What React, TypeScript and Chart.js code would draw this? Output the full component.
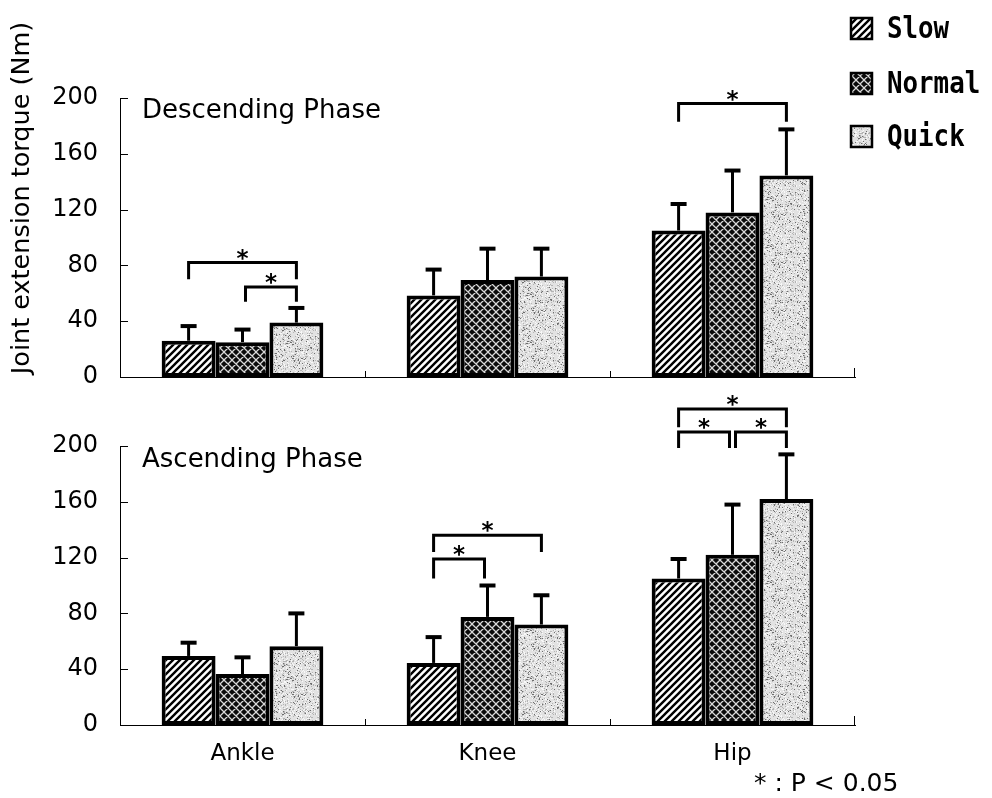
import { useEffect, useRef } from 'react';
import { Chart, registerables } from 'chart.js';

Chart.register(...registerables);

// ---------- data ----------
const categories = ['Ankle', 'Knee', 'Hip'];
const seriesNames = ['Slow', 'Normal', 'Quick'];
const yTickValues = [0, 40, 80, 120, 160, 200];

// Descending phase (mean, +SD)
const descSlow = [26, 58.5, 105];
const descNormal = [25, 69.5, 118];
const descQuick = [39, 72, 144.5];
const descSlowSD = [10.5, 18.5, 19];
const descNormalSD = [9, 22.5, 30];
const descQuickSD = [10.5, 20, 33];

// Ascending phase (mean, +SD)
const ascSlow = [49.5, 44.5, 105];
const ascNormal = [36.5, 77.5, 122];
const ascQuick = [56.5, 72, 162];
const ascSlowSD = [9.5, 18.5, 14];
const ascNormalSD = [12, 22.5, 36];
const ascQuickSD = [23.5, 21, 32];

// significance brackets: [category, fromSeries, toSeries, bracketLevel, legEndLevel]
const descBrackets = [
  [0, 0, 2, 82, 70],
  [0, 1, 2, 64.5, 54],
  [2, 0, 2, 196, 183],
];
const ascBrackets = [
  [1, 0, 2, 136, 124],
  [1, 0, 1, 119, 105],
  [2, 0, 2, 226.5, 213.5],
  [2, 0, 1, 210, 198.5],
  [2, 1, 2, 210, 198.5],
];

const descLabel = 'Descending Phase';
const ascLabel = 'Ascending Phase';
const yTitle = 'Joint extension torque (Nm)';
const pNote = '* : P < 0.05';

// ---------- patterns ----------
function diagTile(size: number, bg: string, fg: string, lw: number, both: boolean) {
  const c = document.createElement('canvas');
  c.width = size;
  c.height = size;
  const g = c.getContext('2d')!;
  g.fillStyle = bg;
  g.fillRect(0, 0, size, size);
  g.strokeStyle = fg;
  g.lineWidth = lw;
  g.beginPath();
  for (let k = -1; k <= 1; k++) {
    g.moveTo(k * size - 1, size + 1);
    g.lineTo(k * size + size + 1, -1);
    if (both) {
      g.moveTo(k * size - 1, -1);
      g.lineTo(k * size + size + 1, size + 1);
    }
  }
  g.stroke();
  return c;
}

function hash2(x: number, y: number) {
  const v = Math.sin(x * 12.9898 + y * 78.233) * 43758.5453;
  return v - Math.floor(v);
}

function stippleTile() {
  const s = 48;
  const c = document.createElement('canvas');
  c.width = s;
  c.height = s;
  const g = c.getContext('2d')!;
  g.fillStyle = '#e2e2e2';
  g.fillRect(0, 0, s, s);
  for (let yy = 0; yy < s; yy++) {
    for (let xx = 0; xx < s; xx++) {
      const h = hash2(xx, yy);
      if (h < 0.07) {
        g.fillStyle = '#6e6e6e';
        g.fillRect(xx, yy, 1, 1);
      } else if (h < 0.2) {
        g.fillStyle = '#b4b4b4';
        g.fillRect(xx, yy, 1, 1);
      } else if (h > 0.88) {
        g.fillStyle = '#f8f8f8';
        g.fillRect(xx, yy, 1, 1);
      }
    }
  }
  return c;
}

function makePatterns(ctx: CanvasRenderingContext2D) {
  return [
    ctx.createPattern(diagTile(7, '#ffffff', '#000000', 2.4, false), 'repeat')!,
    ctx.createPattern(diagTile(8, '#0a0a0a', '#d8d8d8', 1.3, true), 'repeat')!,
    ctx.createPattern(stippleTile(), 'repeat')!,
  ];
}

// ---------- plugins ----------
function errorBarPlugin(sds: number[][]) {
  return {
    id: 'errorBars',
    afterDatasetsDraw(chart: any) {
      const ctx = chart.ctx;
      const y = chart.scales.y;
      ctx.save();
      ctx.strokeStyle = '#000';
      chart.data.datasets.forEach((ds: any, di: number) => {
        const meta = chart.getDatasetMeta(di);
        meta.data.forEach((bar: any, i: number) => {
          const top = y.getPixelForValue(ds.data[i] + sds[di][i]);
          ctx.lineWidth = 3;
          ctx.beginPath();
          ctx.moveTo(bar.x, bar.y);
          ctx.lineTo(bar.x, top);
          ctx.stroke();
          ctx.lineWidth = 4;
          ctx.beginPath();
          ctx.moveTo(bar.x - 8, top);
          ctx.lineTo(bar.x + 8, top);
          ctx.stroke();
        });
      });
      ctx.restore();
    },
  };
}

function bracketPlugin(brackets: number[][]) {
  return {
    id: 'brackets',
    afterDraw(chart: any) {
      const ctx = chart.ctx;
      const y = chart.scales.y;
      ctx.save();
      ctx.strokeStyle = '#000';
      ctx.fillStyle = '#000';
      ctx.lineWidth = 3;
      ctx.lineJoin = 'miter';
      brackets.forEach(([c, a, b, lvl, leg]) => {
        const xa = chart.getDatasetMeta(a).data[c].x + (a === 1 ? 3 : 0);
        const xb = chart.getDatasetMeta(b).data[c].x - (b === 1 ? 3 : 0);
        const yl = y.getPixelForValue(lvl);
        const yg = y.getPixelForValue(leg);
        ctx.beginPath();
        ctx.moveTo(xa, yg);
        ctx.lineTo(xa, yl);
        ctx.lineTo(xb, yl);
        ctx.lineTo(xb, yg);
        ctx.stroke();
        ctx.font = 'bold 23px "DejaVu Sans"';
        ctx.textAlign = 'center';
        ctx.textBaseline = 'alphabetic';
        ctx.fillText('*', (xa + xb) / 2, yl + 3);
      });
      ctx.restore();
    },
  };
}

const axisTicksPlugin = {
  id: 'axisTicks',
  afterDraw(chart: any) {
    const ctx = chart.ctx;
    const { left, right, bottom } = chart.chartArea;
    const y = chart.scales.y;
    const x = chart.scales.x;
    ctx.save();
    ctx.strokeStyle = '#000';
    ctx.lineWidth = 1;
    ctx.beginPath();
    yTickValues.forEach((v) => {
      const py = Math.round(y.getPixelForValue(v)) + 0.5;
      ctx.moveTo(left, py);
      ctx.lineTo(left + 8, py);
    });
    for (let i = 0; i < categories.length - 1; i++) {
      const px = Math.round((x.getPixelForTick(i) + x.getPixelForTick(i + 1)) / 2) + 0.5;
      ctx.moveTo(px, bottom);
      ctx.lineTo(px, bottom - 6);
    }
    ctx.moveTo(right - 0.5, bottom);
    ctx.lineTo(right - 0.5, bottom - 9);
    ctx.stroke();
    ctx.restore();
  },
};

function textPlugin(draw: (ctx: CanvasRenderingContext2D, chart: any) => void) {
  return {
    id: 'texts',
    afterDraw(chart: any) {
      const ctx = chart.ctx;
      ctx.save();
      draw(ctx, chart);
      ctx.restore();
    },
  };
}

// ---------- chart builder ----------
function buildChart(
  canvas: HTMLCanvasElement,
  values: number[][],
  sds: number[][],
  brackets: number[][],
  topPx: number,
  bottomPx: number,
  showX: boolean,
  extra: (ctx: CanvasRenderingContext2D, chart: any) => void
) {
  const ctx = canvas.getContext('2d')!;
  const patterns = makePatterns(ctx);
  const datasets = values.map((vals, i) => ({
    label: seriesNames[i],
    data: vals,
    backgroundColor: patterns[i],
    borderColor: '#000',
    borderWidth: 4,
    borderSkipped: false,
    categoryPercentage: 0.66,
    barPercentage: 1,
  }));
  return new Chart(canvas, {
    type: 'bar',
    data: { labels: categories, datasets: datasets as any },
    options: {
      animation: false,
      responsive: false,
      maintainAspectRatio: false,
      events: [],
      layout: { padding: { top: topPx, right: 137, left: 0, bottom: 0 } },
      plugins: {
        legend: { display: false },
        tooltip: { enabled: false },
        title: { display: false },
      },
      scales: {
        x: {
          grid: { display: false },
          border: { display: true, color: '#000', width: 1 },
          ticks: {
            display: showX,
            color: '#000',
            font: { family: '"DejaVu Sans"', size: 23 },
            padding: 7,
          },
          afterFit: (s: any) => {
            s.height = 798 - bottomPx;
          },
        },
        y: {
          min: 0,
          max: 200,
          afterBuildTicks: (s: any) => {
            s.ticks = yTickValues.map((v) => ({ value: v }));
          },
          grid: { display: false },
          border: { display: true, color: '#000', width: 1 },
          ticks: {
            color: '#000',
            font: { family: '"DejaVu Sans"', size: 24 },
            padding: 14,
          },
          afterFit: (s: any) => {
            s.width = 120;
          },
        },
      },
    } as any,
    plugins: [
      errorBarPlugin(sds),
      bracketPlugin(brackets),
      axisTicksPlugin,
      textPlugin((c, ch) => extra(c, ch)),
    ],
  });
}

export default function App() {
  const topRef = useRef<HTMLCanvasElement>(null);
  const botRef = useRef<HTMLCanvasElement>(null);

  useEffect(() => {
    const top = buildChart(
      topRef.current!,
      [descSlow, descNormal, descQuick],
      [descSlowSD, descNormalSD, descQuickSD],
      descBrackets,
      98,
      377,
      false,
      (ctx, chart) => {
        ctx.fillStyle = '#000';
        ctx.font = '26px "DejaVu Sans"';
        ctx.textAlign = 'left';
        ctx.textBaseline = 'alphabetic';
        ctx.fillText(descLabel, 142, 118);
        // y title
        ctx.save();
        ctx.translate(22, 198);
        ctx.rotate(-Math.PI / 2);
        ctx.font = '25.5px "DejaVu Sans"';
        ctx.textAlign = 'center';
        ctx.textBaseline = 'middle';
        ctx.fillText(yTitle, 0, 0);
        ctx.restore();
        // legend
        const pats = chart.data.datasets.map((d: any) => d.backgroundColor);
        const rows = [29, 84, 137];
        seriesNames.forEach((name, i) => {
          ctx.fillStyle = pats[i];
          ctx.fillRect(851, rows[i] - 11, 21, 21);
          ctx.strokeStyle = '#000';
          ctx.lineWidth = 2.5;
          ctx.strokeRect(851, rows[i] - 11, 21, 21);
          ctx.fillStyle = '#000';
          ctx.save();
          ctx.translate(887, rows[i] + 1);
          ctx.scale(0.86, 1);
          ctx.font = 'bold 30px "DejaVu Sans Mono"';
          ctx.textAlign = 'left';
          ctx.textBaseline = 'middle';
          ctx.fillText(name, 0, 0);
          ctx.restore();
        });
      }
    );
    const bot = buildChart(
      botRef.current!,
      [ascSlow, ascNormal, ascQuick],
      [ascSlowSD, ascNormalSD, ascQuickSD],
      ascBrackets,
      446,
      725,
      true,
      (ctx) => {
        ctx.fillStyle = '#000';
        ctx.font = '26px "DejaVu Sans"';
        ctx.textAlign = 'left';
        ctx.textBaseline = 'alphabetic';
        ctx.fillText(ascLabel, 142, 467);
        ctx.font = '25px "DejaVu Sans"';
        ctx.fillText(pNote, 754, 791);
      }
    );
    return () => {
      top.destroy();
      bot.destroy();
    };
  }, []);

  return (
    <div style={{ position: 'absolute', left: 0, top: 0, width: 992, height: 798, background: '#fff' }}>
      <canvas ref={botRef} width={992} height={798} style={{ position: 'absolute', left: 0, top: 0 }} />
      <canvas ref={topRef} width={992} height={798} style={{ position: 'absolute', left: 0, top: 0 }} />
    </div>
  );
}
